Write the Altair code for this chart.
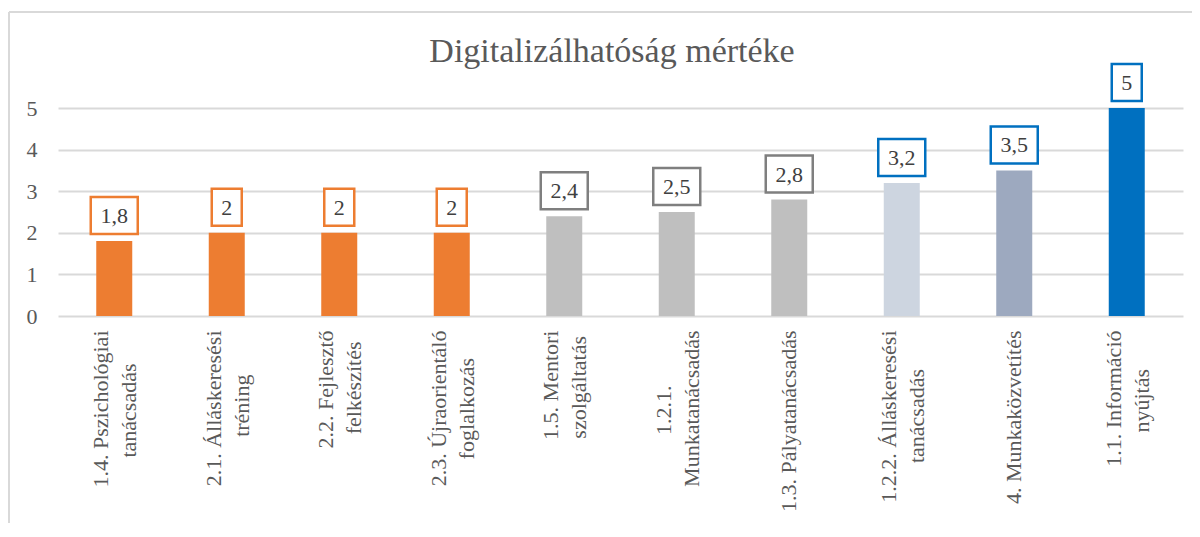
import json
import altair as alt
import pandas as pd

# ---- data ----
title_text = "Digitalizálhatóság mértéke"
category_lines = [
    ["1.4. Pszichológiai", "tanácsadás"],
    ["2.1. Álláskeresési", "tréning"],
    ["2.2. Fejlesztő", "felkészítés"],
    ["2.3. Újraorientáló", "foglalkozás"],
    ["1.5. Mentori", "szolgáltatás"],
    ["1.2.1.", "Munkatanácsadás"],
    ["1.3. Pályatanácsadás"],
    ["1.2.2. Álláskeresési", "tanácsadás"],
    ["4. Munkaközvetítés"],
    ["1.1. Információ", "nyújtás"],
]
values = [1.8, 2, 2, 2, 2.4, 2.5, 2.8, 3.2, 3.5, 5]
value_labels = ["1,8", "2", "2", "2", "2,4", "2,5", "2,8", "3,2", "3,5", "5"]
y_ticks = [0, 1, 2, 3, 4, 5]

# ---- styles ----
bar_colors = ["#ED7D31"] * 4 + ["#BFBFBF"] * 3 + ["#CDD5E0", "#9DA9BF", "#0070C0"]
box_colors = ["#ED7D31"] * 4 + ["#7F7F7F"] * 3 + ["#0070C0"] * 3
FONT = "Liberation Serif"
TXT = "#595959"
GRID = "#D9D9D9"

# approximate Times glyph widths (em) to centre wrapped lines like Excel does
W = {" ": .25, ".": .25, ",": .25, "A": .722, "Á": .722, "Ú": .722, "P": .556,
     "F": .556, "M": .889, "I": .333, "a": .444, "á": .444, "c": .444, "e": .444,
     "é": .444, "z": .444, "f": .333, "r": .333, "s": .389, "t": .278, "i": .278,
     "í": .278, "j": .278, "l": .278, "m": .778}


def tw(s):
    return sum(W.get(c, 0.5) for c in s)


def centre(lines):
    m = max(tw(l) for l in lines)
    out = []
    for l in lines:
        n = int(round((m - tw(l)) / 2 / 0.25))
        out.append(l + ("\u00a0" * n + "\u200b" if n else ""))
    return out


keys = [" ".join(l) for l in category_lines]
label_map = {k: centre(l) for k, l in zip(keys, category_lines)}
label_expr = json.dumps(label_map, ensure_ascii=False) + "[datum.value]"
two_line = [k for k, l in zip(keys, category_lines) if len(l) > 1]
two_line_test = "indexof(" + json.dumps(two_line, ensure_ascii=False) + ", datum.value) >= 0"

df = pd.DataFrame({
    "cat": keys,
    "value": values,
    "label": value_labels,
    "bar_color": bar_colors,
    "box_color": box_colors,
})

x_enc = alt.X(
    "cat:N", sort=None, title=None,
    scale=alt.Scale(paddingInner=0.68, paddingOuter=0.34),
    axis=alt.Axis(labelAngle=-90, labelAlign="right", labelBaseline="middle",
                  labelFont=FONT, labelFontSize=22, labelColor=TXT,
                  labelLineHeight=28, labelPadding=14,
                  labelOffset={"condition": {"test": two_line_test, "value": -13},
                               "value": 0},
                  labelExpr=label_expr, ticks=False, domain=False,
                  labelLimit=400),
)
y_enc = alt.Y(
    "value:Q", title=None, scale=alt.Scale(domain=[0, 5], nice=False),
    axis=alt.Axis(values=y_ticks, labelFont=FONT, labelFontSize=22, labelColor=TXT,
                  labelPadding=21, ticks=False, domain=False,
                  gridColor=GRID, gridWidth=2),
)
x_plain = alt.X("cat:N", sort=None)

base = alt.Chart(df)

bars = base.mark_bar(size=36).encode(
    x=x_enc, y=y_enc, color=alt.Color("bar_color:N", scale=None)
)

boxes = base.transform_calculate(
    boxw="length(datum.label) > 1 ? 47 : 30"
).mark_bar(fill="white", strokeWidth=2.5, yOffset=-7, y2Offset=-44).encode(
    x=x_plain,
    y="value:Q",
    y2="value:Q",
    size=alt.Size("boxw:Q", scale=None, legend=None),
    stroke=alt.Stroke("box_color:N", scale=None),
)

texts = base.mark_text(baseline="middle", dy=-25, font=FONT, fontSize=22,
                       color="#404040").encode(
    x=x_plain, y="value:Q", text="label:N"
)

title_df = pd.DataFrame({"t": [title_text]})
title_mark = alt.Chart(title_df).mark_text(
    font=FONT, fontSize=34, color=TXT, align="center", baseline="alphabetic"
).encode(x=alt.value(554), y=alt.value(-46), text="t:N")

left_border = alt.Chart(title_df).mark_rule(color=GRID, strokeWidth=2).encode(
    x=alt.value(-49), y=alt.value(-96), y2=alt.value(415)
)
top_border = alt.Chart(title_df).mark_rule(color=GRID, strokeWidth=2).encode(
    x=alt.value(-49), x2=alt.value(1134), y=alt.value(-96)
)

chart = alt.layer(bars, boxes, texts, title_mark, left_border, top_border).properties(
    width=1125,
    height=208,
    autosize=alt.AutoSizeParams(type="none"),
    padding={"left": 50, "top": 100, "right": 9, "bottom": 213},
).configure_view(stroke=None)

chart.save("out.html", embed_options={"renderer": "svg", "actions": False})
